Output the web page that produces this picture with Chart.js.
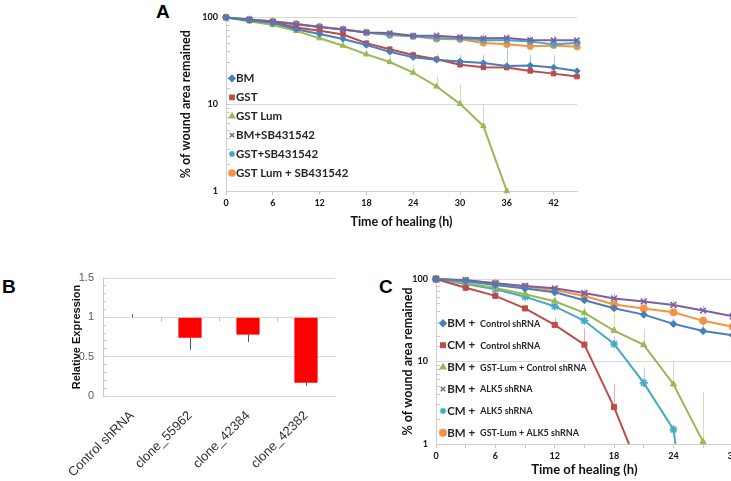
<!DOCTYPE html>
<html>
<head>
<meta charset="utf-8">
<script src="https://cdn.jsdelivr.net/npm/chart.js@4.4.1/dist/chart.umd.min.js"></script>
<style>
    html, body { margin: 0; padding: 0; background: #fff; }
    body { width: 731px; height: 481px; overflow: hidden; position: relative; }
    .panel { position: absolute; }
    .tag { position: absolute; font: bold 19px "Liberation Sans", Arial, sans-serif; line-height: 19px; color: #000; }
</style>
</head>
<body>
<div class="tag" style="left:156px;top:2px">A</div>
<div class="tag" style="left:2px;top:277px">B</div>
<div class="tag" style="left:379px;top:277px">C</div>
<div class="panel" style="left:150px;top:0;width:440px;height:233px"><canvas id="chartA"></canvas></div>
<div class="panel" style="left:0;top:250px;width:360px;height:231px"><canvas id="chartB"></canvas></div>
<div class="panel" style="left:390px;top:258px;width:351px;height:223px"><canvas id="chartC"></canvas></div>
<script>
// ── Panel A: wound area remaining (log) ──────────────────
const hoursA = [0, 3, 6, 9, 12, 15, 18, 21, 24, 27, 30, 33, 36, 39, 42, 45];
const labelsA = ['BM', 'GST', 'GST Lum', 'BM+SB431542', 'GST+SB431542', 'GST Lum + SB431542'];
const bmA      = [100, 92.5, 86, 73, 64.5, 56.5, 48, 40.1, 34.7, 32.5, 31.1, 29.8, 27.6, 27.9, 26.5, 24.1];
const gstA     = [100, 92.5, 88, 76.5, 70, 63.5, 50.5, 43, 36.9, 33, 28.5, 26.6, 26.4, 24.2, 22.5, 20.8];
const lumA     = [100, 90.5, 81.5, 70, 57.5, 47.2, 37.5, 30.6, 23.1, 16, 10.1, 5.6, 1.0, null, null, null];
const bmSbA    = [100, 94.5, 89.5, 83.5, 77.5, 72.5, 67, 66, 61.5, 61.5, 59, 57.4, 57.9, 55, 54.6, 54.6];
const gstSbA   = [100, 94.5, 89.5, 83.5, 77.5, 72.5, 67, 63, 60.5, 57.9, 57, 54.6, 54.6, 52.7, 48.9, 50.6];
const lumSbA   = [100, 94.2, 90.3, 84.3, 78.1, 72.9, 67, 62.6, 60.5, 56.5, 56, 50.6, 48.9, 46.4, 47.6, 46];
// upper error bars
const bmErrA    = [0, 0, 0, 0, 0, 0, 4, 4, 6, 5, 6, 7, 16, 9, 10, 10];
const gstErrA   = [0, 0, 0, 0, 0, 0, 3, 3, 3, 3, 3, 3, 3, 3, 3, 3];
const lumErrA   = [0, 0, 0, 0, 3, 4, 5, 6, 5.5, 5.2, 7, 4.2, 0, 0, 0, 0];
const bmSbErrA  = [0, 0, 0, 0, 4, 4, 5, 6, 6, 7, 7, 7, 7, 7, 7, 7];
const gstSbErrA = [0, 0, 0, 0, 3, 3, 3, 3, 3, 3, 3, 3, 3, 3, 3, 3];
const lumSbErrA = [0, 0, 0, 0, 3, 3, 3, 3, 3, 3, 3, 3, 3, 3, 3, 3];

// ── Panel B: relative expression ─────────────────────────
const clonesB = ['Control shRNA', 'clone_55962', 'clone_42384', 'clone_42382'];
const exprB = [1, 0.74, 0.78, 0.17];
const exprErrUpB = [0.04, 0, 0, 0];
const exprErrDownB = [0, 0.155, 0.094, 0.04];
const exprTicksB = [0, 0.5, 1, 1.5];

// ── Panel C: wound area with shRNA (log) ─────────────────
const hoursC = [0, 3, 6, 9, 12, 15, 18, 21, 24, 27, 30];
const headsC = ['BM +', 'CM +', 'BM +', 'BM +', 'CM +', 'BM +'];
const tailsC = ['Control shRNA', 'Control shRNA', 'GST-Lum + Control shRNA', 'ALK5 shRNA', 'ALK5 shRNA', 'GST-Lum + ALK5 shRNA'];
const bmCtrlC  = [100, 94.5, 84.5, 76.5, 69, 55.4, 44.3, 37, 28.6, 23.4, 20.8];
const cmCtrlC  = [100, 78.4, 62.5, 44, 27.8, 16, 2.8, 0.36, null, null, null];
const lumCtrlC = [100, 90.2, 78, 65.5, 53.8, 38.8, 23.7, 15.9, 5.3, 1.06, null];
const bmAlkC   = [100, 97, 88.6, 82.2, 77, 67.5, 58.2, 53.4, 48.5, 41.4, 35.3];
const cmAlkC   = [100, 87, 75.2, 61, 46.6, 31.2, 16.3, 5.5, 1.5, 0.004, null];
const lumAlkC  = [100, 95.4, 88.6, 80.7, 73.5, 62.2, 49, 43.9, 39.5, 31.1, 26.4];
const bmCtrlErrC  = [0, 0, 3, 4, 5, 6, 6, 6, 5, 5, 5];
const cmCtrlErrC  = [0, 0, 0, 0, 6, 9, 2.6, 0, 0, 0, 0];
const lumCtrlErrC = [0, 0, 0, 5, 8, 8, 14, 9, 4.7, 3.2, 0];
const bmAlkErrC   = [0, 0, 0, 4, 6, 8, 8, 6, 6, 6, 0];
const cmAlkErrC   = [0, 0, 0, 3, 4, 5, 4, 3, 0, 0, 0];
const lumAlkErrC  = [0, 0, 0, 3, 5, 6, 6, 5, 4, 4, 0];

const logTicks = [1, 10, 100];

// ── styles ──────────────────────────────────────────────
const seriesColors = ['#4a7ebb', '#be4b48', '#98b954', '#7d60a0', '#46aac5', '#f69240'];
const errColors = ['rgba(74,126,187,.45)', 'rgba(190,75,72,.45)', 'rgba(152,185,84,.45)',
                   'rgba(125,96,160,.45)', 'rgba(70,170,197,.45)', 'rgba(246,146,64,.45)'];
const shapes = ['rectRot', 'rect', 'triangle', 'crossRot', 'star', 'circle'];
const CALIBRI = 'Lato, "Liberation Sans", sans-serif';
const ARIAL = '"Liberation Sans", Arial, sans-serif';

Chart.defaults.animation = false;
Chart.defaults.font.family = CALIBRI;
Chart.defaults.color = '#222';

// 误差线 (error bars) drawn under the series
const errorBars = {
    id: 'errorBars',
    beforeDatasetsDraw(chart) {
        const { ctx, chartArea: a } = chart;
        ctx.save();
        ctx.beginPath();
        ctx.rect(a.left, a.top, a.right - a.left, a.bottom - a.top);
        ctx.clip();
        chart.data.datasets.forEach((ds, i) => {
            const meta = chart.getDatasetMeta(i);
            const ys = chart.scales[meta.yAxisID];
            ctx.strokeStyle = ds.errColor || '#444';
            ctx.lineWidth = 1;
            meta.data.forEach((el, j) => {
                const raw = ds.data[j];
                const v = raw !== null && typeof raw === 'object' ? raw.y : raw;
                if (v == null) return;
                const up = ds.errUp ? ds.errUp[j] || 0 : 0;
                const dn = ds.errDown ? ds.errDown[j] || 0 : 0;
                if (!up && !dn) return;
                const x = Math.round(el.x) + 0.5;
                ctx.beginPath();
                ctx.moveTo(x, ys.getPixelForValue(v + up));
                ctx.lineTo(x, ys.getPixelForValue(v - dn));
                ctx.stroke();
            });
        });
        ctx.restore();
    }
};

// legend placed inside the plot, Excel style
const insideLegend = {
    id: 'insideLegend',
    afterDatasetsDraw(chart, args, opts) {
        if (!opts || !opts.show) return;
        const { ctx, chartArea } = chart;
        ctx.save();
        chart.data.datasets.forEach((ds, i) => {
            const mx = chartArea.left + opts.x;
            const my = chartArea.top + opts.y + i * opts.gap;
            ctx.fillStyle = ds.backgroundColor;
            ctx.strokeStyle = ds.borderColor;
            ctx.lineWidth = 1.5;
            if (Chart.helpers && Chart.helpers.drawPoint) {
                Chart.helpers.drawPoint(ctx, { pointStyle: ds.pointStyle, radius: opts.r, rotation: 0, borderWidth: 1.5 }, mx, my);
            } else {
                ctx.fillRect(mx - opts.r, my - opts.r, opts.r * 2, opts.r * 2);
            }
            ctx.fillStyle = opts.color;
            ctx.textBaseline = 'middle';
            ctx.textAlign = 'left';
            ctx.font = opts.font;
            const head = opts.heads ? opts.heads[i] : ds.label;
            let tx = mx + opts.r + 1;
            ctx.fillText(head, tx, my);
            if (opts.tails) {
                tx += ctx.measureText(head).width + opts.space;
                ctx.font = opts.tailFont;
                ctx.fillText(opts.tails[i], tx, my + 0.5);
            }
        });
        ctx.restore();
    }
};

// category tick marks on the y = 1 line (panel B)
const catTicks = {
    id: 'catTicks',
    afterDatasetsDraw(chart, args, opts) {
        if (!opts || !opts.show) return;
        const { ctx } = chart;
        const xs = chart.scales.x, ys = chart.scales.y;
        const n = chart.data.labels.length;
        const w = xs.width / n;
        const y = Math.round(ys.getPixelForValue(opts.at)) + 0.5;
        ctx.save();
        ctx.strokeStyle = '#bfbfbf';
        ctx.lineWidth = 1;
        for (let i = 1; i < n; i++) {
            const x = Math.round(xs.left + w * i) + 0.5;
            ctx.beginPath();
            ctx.moveTo(x, y);
            ctx.lineTo(x, y + 4);
            ctx.stroke();
        }
        ctx.restore();
    }
};

function lineSets(labels, hours, series, errs, radius) {
    return series.map((vals, i) => ({
        label: labels[i],
        data: hours.map((h, j) => ({ x: h, y: vals[j] })),
        errUp: errs[i],
        errColor: errColors[i],
        borderColor: seriesColors[i],
        backgroundColor: seriesColors[i],
        pointBorderColor: seriesColors[i],
        pointBackgroundColor: seriesColors[i],
        pointStyle: shapes[i],
        pointRadius: shapes[i] === 'crossRot' || shapes[i] === 'star' ? radius + 0.5 : radius,
        pointBorderWidth: shapes[i] === 'crossRot' || shapes[i] === 'star' ? 1.6 : 1,
        borderWidth: 2,
        tension: 0,
        spanGaps: false
    }));
}

function logY(widthPx, titleSize, tickSize) {
    return {
        type: 'logarithmic', min: 1, max: 100,
        ticks: {
            autoSkip: false,
            padding: 12,
            font: { size: tickSize, weight: 'bold' },
            color: '#111',
            callback: v => logTicks.includes(v) ? String(v) : ''
        },
        grid: {
            color: c => (c.tick && logTicks.includes(c.tick.value) && c.tick.value !== 1) ? '#d9d9d9' : 'rgba(0,0,0,0)',
            tickColor: '#c8c8c8',
            tickLength: -4
        },
        border: { color: '#cfcfcf' },
        title: {
            display: true, text: '% of wound area remained',
            font: { size: titleSize, weight: 'bold' }, color: '#111',
            padding: { top: 4, bottom: 4 }
        },
        afterFit: s => { s.width = widthPx; }
    };
}

// ── chart A ─────────────────────────────────────────────
new Chart(document.getElementById('chartA'), {
    type: 'line',
    data: {
        datasets: lineSets(labelsA, hoursA,
            [bmA, gstA, lumA, bmSbA, gstSbA, lumSbA],
            [bmErrA, gstErrA, lumErrA, bmSbErrA, gstSbErrA, lumSbErrA], 3.2)
            .map(d => Object.assign(d, { clip: false }))
    },
    plugins: [errorBars, insideLegend],
    options: {
        responsive: true, maintainAspectRatio: false,
        layout: { padding: { left: 24, top: 11, right: 13, bottom: 0 } },
        plugins: {
            legend: { display: false }, tooltip: { enabled: false },
            insideLegend: { show: true, x: 6, y: 61, gap: 18.9, r: 3, font: 'bold 11.5px ' + CALIBRI, color: '#262626' }
        },
        scales: {
            x: {
                type: 'linear', min: 0, max: 45,
                ticks: { stepSize: 6, includeBounds: false, maxRotation: 0, padding: 3, font: { size: 9, weight: 'bold' }, color: '#111' },
                grid: { drawOnChartArea: false, tickLength: 4, tickColor: '#c8c8c8' },
                border: { color: '#cfcfcf' },
                title: { display: true, text: 'Time of healing (h)', font: { size: 12.5, weight: 'bold' }, color: '#111', padding: { top: 0, bottom: 4 } },
                afterFit: s => { s.height = 42; }
            },
            y: logY(52, 12.5, 9)
        }
    }
});

// ── chart B ─────────────────────────────────────────────
new Chart(document.getElementById('chartB'), {
    type: 'bar',
    data: {
        labels: clonesB,
        datasets: [{
            data: exprB,
            base: 1,
            backgroundColor: '#ff0000',
            borderWidth: 0,
            barPercentage: 0.8,
            categoryPercentage: 0.5,
            errUp: exprErrUpB,
            errDown: exprErrDownB,
            errColor: '#555'
        }]
    },
    plugins: [errorBars, catTicks],
    options: {
        responsive: true, maintainAspectRatio: false,
        layout: { padding: { left: 66, top: 28, right: 25, bottom: 0 } },
        plugins: { legend: { display: false }, tooltip: { enabled: false }, catTicks: { show: true, at: 1 } },
        scales: {
            x: {
                ticks: { maxRotation: 45, minRotation: 45, padding: 4, font: { family: ARIAL, size: 13 }, color: '#333' },
                grid: { display: false },
                border: { display: false },
                afterFit: s => { s.height = 85; }
            },
            y: {
                min: 0, max: 1.5,
                ticks: {
                    stepSize: 0.1, autoSkip: false, padding: 12,
                    font: { family: ARIAL, size: 11 }, color: '#595959',
                    callback: v => {
                        const r = Math.round(v * 10) / 10;
                        return exprTicksB.includes(r) ? String(r) : '';
                    }
                },
                grid: {
                    color: c => (c.tick && exprTicksB.includes(Math.round(c.tick.value * 10) / 10)) ? '#d9d9d9' : 'rgba(0,0,0,0)',
                    tickColor: '#c8c8c8',
                    tickLength: -3
                },
                border: { color: '#c8c8c8' },
                title: { display: true, text: 'Relative Expression', font: { family: ARIAL, size: 11, weight: 'bold' }, color: '#111', padding: { top: 4, bottom: 4 } },
                afterFit: s => { s.width = 37; }
            }
        }
    }
});

// ── chart C ─────────────────────────────────────────────
const setsC = lineSets(headsC.map((h, i) => h + ' ' + tailsC[i]), hoursC,
    [bmCtrlC, cmCtrlC, lumCtrlC, bmAlkC, cmAlkC, lumAlkC],
    [bmCtrlErrC, cmCtrlErrC, lumCtrlErrC, bmAlkErrC, cmAlkErrC, lumAlkErrC], 3.6);
setsC.forEach((d, i) => {
    d.clip = (i === 1 || i === 4) ? { left: 8, top: 8, right: 8, bottom: 0 } : { left: 8, top: 8, right: 8, bottom: 6 };
});

new Chart(document.getElementById('chartC'), {
    type: 'line',
    data: { datasets: setsC },
    plugins: [errorBars, insideLegend],
    options: {
        responsive: true, maintainAspectRatio: false,
        layout: { padding: { left: 6, top: 21, right: 7, bottom: 0 } },
        plugins: {
            legend: { display: false }, tooltip: { enabled: false },
            insideLegend: {
                show: true, x: 7, y: 44.3, gap: 21.9, r: 3.2,
                font: 'bold 11.5px ' + CALIBRI, tailFont: 'bold 9px ' + CALIBRI, space: 5,
                color: '#262626', heads: headsC, tails: tailsC
            }
        },
        scales: {
            x: {
                type: 'linear', min: 0, max: 30,
                ticks: {
                    stepSize: 3, autoSkip: false, maxRotation: 0, padding: 3,
                    font: { size: 9, weight: 'bold' }, color: '#111',
                    callback: v => v % 6 === 0 ? String(v) : ''
                },
                grid: { drawOnChartArea: false, tickLength: 4, tickColor: '#c8c8c8' },
                border: { color: '#cfcfcf' },
                title: { display: true, text: 'Time of healing (h)', font: { size: 13, weight: 'bold' }, color: '#111', padding: { top: 0, bottom: 3 } },
                afterFit: s => { s.height = 37; }
            },
            y: logY(40, 12.5, 9)
        }
    }
});
</script>
</body>
</html>
